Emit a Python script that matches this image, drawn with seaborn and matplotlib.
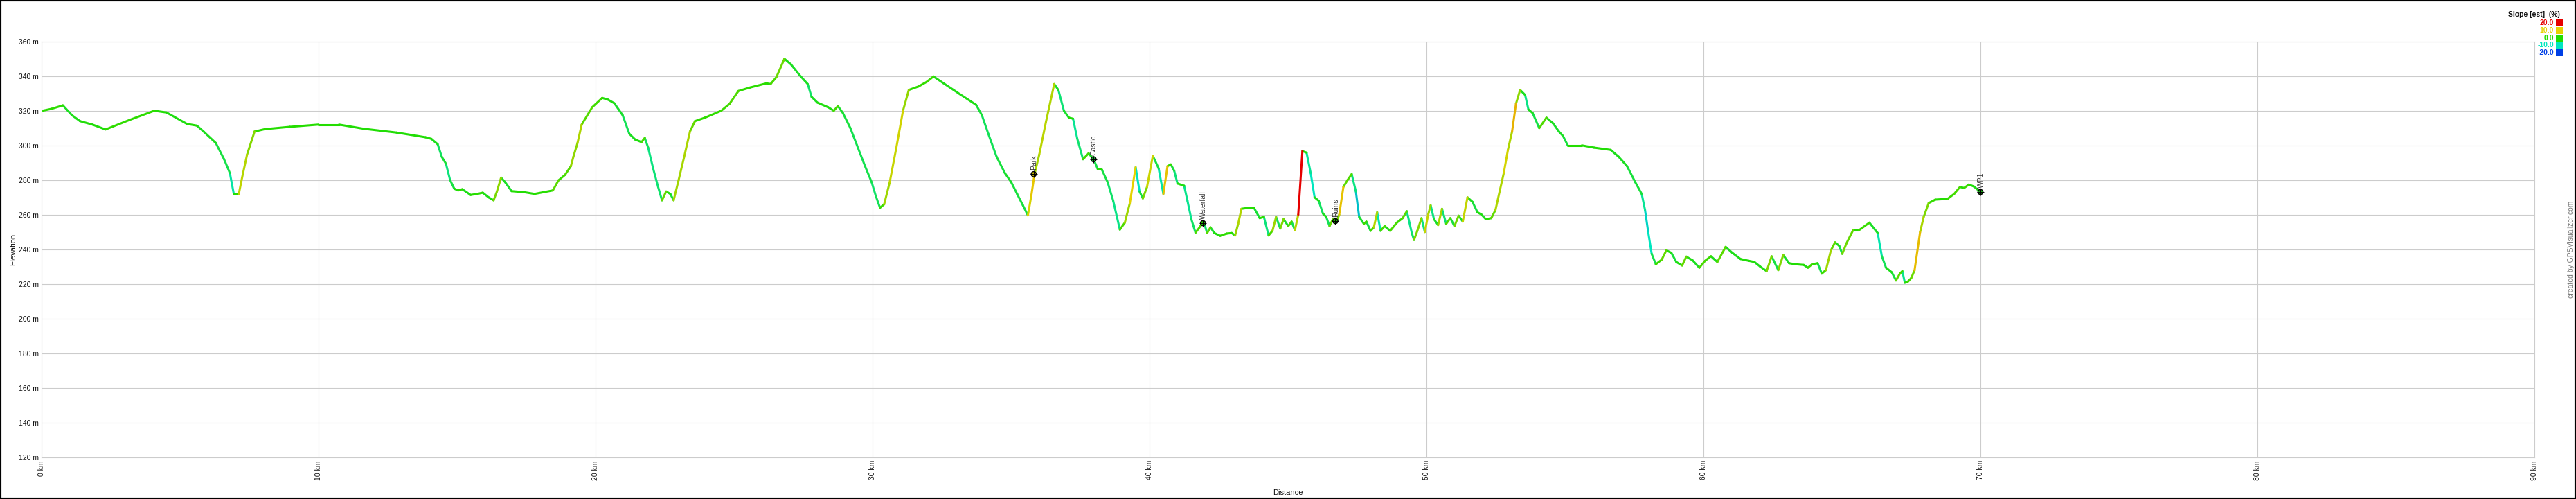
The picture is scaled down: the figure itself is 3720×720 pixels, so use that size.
import numpy as np
import pandas as pd
import matplotlib
matplotlib.use("Agg")
import matplotlib.pyplot as plt
import seaborn as sns
from matplotlib.colors import LinearSegmentedColormap
from matplotlib.patches import Rectangle

# ---------------- data ----------------
DIST_KM = [0.0, 0.36, 0.77, 1.1, 1.39, 1.84, 2.31, 3.18, 4.07, 4.51, 5.25, 5.61, 5.85, 6.29, 6.59, 6.8, 6.94, 7.12,
           7.24, 7.42, 7.69, 8.07, 8.96, 10.0, 10.74, 11.63, 12.82, 13.86, 14.07, 14.3, 14.45, 14.6, 14.75, 14.9,
           15.04, 15.19, 15.49, 15.73, 15.93, 16.14, 16.32, 16.44, 16.59, 16.74, 16.97, 17.42, 17.8, 18.16, 18.46,
           18.66, 18.9, 19.11, 19.2, 19.35, 19.5, 19.88, 20.24, 20.45, 20.68, 20.98, 21.22, 21.43, 21.66, 21.78,
           21.9, 22.08, 22.26, 22.4, 22.55, 22.7, 22.82, 23.0, 23.2, 23.41, 23.59, 23.95, 24.54, 24.84, 25.16,
           25.58, 26.17, 26.32, 26.53, 26.82, 27.06, 27.36, 27.66, 27.8, 28.01, 28.4, 28.6, 28.75, 28.93, 29.2,
           29.44, 29.73, 29.97, 30.12, 30.27, 30.42, 30.62, 30.86, 31.1, 31.31, 31.66, 31.96, 32.2, 32.55, 33.15,
           33.74, 33.95, 34.18, 34.48, 34.78, 35.01, 35.22, 35.43, 35.61, 35.73, 35.85, 36.02, 36.26, 36.56,
           36.71, 36.91, 37.09, 37.24, 37.39, 37.6, 37.8, 37.98, 38.13, 38.28, 38.49, 38.69, 38.93, 39.11, 39.29,
           39.5, 39.64, 39.76, 39.91, 40.12, 40.33, 40.5, 40.65, 40.77, 40.89, 41.01, 41.25, 41.37, 41.51, 41.66,
           41.84, 41.96, 42.08, 42.2, 42.34, 42.55, 42.79, 42.97, 43.09, 43.2, 43.32, 43.5, 43.77, 43.98, 44.13,
           44.3, 44.44, 44.57, 44.72, 44.84, 45.01, 45.13, 45.25, 45.37, 45.52, 45.67, 45.82, 45.96, 46.11, 46.26,
           46.38, 46.5, 46.62, 46.74, 46.85, 47.0, 47.15, 47.3, 47.45, 47.57, 47.74, 47.83, 47.98, 48.1, 48.22,
           48.34, 48.49, 48.69, 48.93, 49.14, 49.29, 49.47, 49.55, 49.67, 49.82, 49.94, 50.06, 50.15, 50.27,
           50.42, 50.56, 50.71, 50.86, 51.01, 51.16, 51.31, 51.48, 51.66, 51.84, 51.99, 52.14, 52.34, 52.49,
           52.64, 52.79, 52.94, 53.09, 53.23, 53.38, 53.56, 53.68, 53.83, 54.07, 54.33, 54.57, 54.78, 54.93, 55.1,
           55.61, 56.05, 56.65, 56.94, 57.24, 57.54, 57.77, 57.89, 58.01, 58.13, 58.28, 58.49, 58.66, 58.84,
           59.02, 59.23, 59.38, 59.61, 59.85, 60.06, 60.27, 60.5, 60.8, 61.04, 61.34, 61.63, 61.84, 62.05, 62.28,
           62.46, 62.7, 62.88, 63.09, 63.32, 63.62, 63.77, 63.92, 64.12, 64.27, 64.42, 64.6, 64.75, 64.9, 65.01,
           65.16, 65.4, 65.61, 65.99, 66.29, 66.44, 66.59, 66.8, 66.95, 67.09, 67.18, 67.27, 67.39, 67.5, 67.62,
           67.82, 67.95, 68.13, 68.37, 68.81, 69.05, 69.26, 69.41, 69.58, 69.76, 70.0]

ELEV_M = [320.0, 321.2, 323.2, 317.5, 314.1, 312.1, 309.3, 314.8, 320.1, 319.1, 312.5, 311.5, 308.1, 301.5, 292.1,
          284.1, 272.1, 271.9, 281.5, 294.8, 308.1, 309.5, 310.8, 312.1, 312.1, 309.7, 307.5, 304.8, 303.9, 300.8,
          293.5, 289.5, 280.1, 275.1, 274.1, 274.8, 271.5, 272.1, 272.8, 270.1, 268.4, 273.5, 281.5, 278.8, 273.7,
          273.1, 272.1, 273.2, 274.1, 279.9, 283.1, 288.1, 293.5, 301.5, 312.1, 322.1, 327.5, 326.5, 324.4, 317.5,
          306.8, 303.5, 302.0, 304.4, 298.8, 286.8, 276.1, 268.4, 273.5, 272.1, 268.4, 280.1, 293.5, 308.1, 314.1,
          316.1, 320.1, 324.1, 331.5, 333.5, 335.9, 335.5, 339.5, 350.1, 346.8, 340.8, 335.5, 328.1, 324.8, 322.1,
          320.1, 322.8, 318.8, 310.1, 300.1, 288.1, 278.8, 270.8, 264.1, 266.1, 278.8, 298.8, 320.1, 332.1, 334.1,
          336.8, 339.9, 336.1, 329.7, 323.5, 317.5, 306.8, 293.5, 284.1, 278.8, 272.1, 265.5, 259.7, 270.8, 283.5,
          294.8, 313.5, 335.5, 332.1, 320.1, 316.1, 315.5, 304.1, 292.1, 295.5, 292.1, 286.5, 286.1, 278.8, 268.1,
          251.5, 255.5, 266.8, 287.5, 273.5, 269.5, 276.1, 294.1, 286.8, 272.1, 288.1, 289.1, 285.5, 278.1, 276.8,
          268.1, 257.5, 249.7, 253.5, 255.9, 249.5, 252.8, 249.5, 247.9, 249.2, 249.5, 248.1, 254.8, 263.5, 263.9,
          264.1, 258.1, 258.8, 248.1, 250.8, 258.8, 252.1, 257.5, 253.5, 256.1, 251.1, 260.1, 296.8, 295.9, 284.1,
          270.1, 268.1, 260.8, 258.8, 253.5, 257.5, 255.5, 260.1, 276.1, 280.1, 283.5, 273.5, 258.8, 254.8, 256.1,
          250.8, 252.8, 261.5, 250.8, 253.5, 250.8, 255.5, 258.1, 262.1, 249.5, 245.5, 250.8, 258.1, 250.1, 260.1,
          265.5, 257.5, 254.1, 263.5, 254.8, 258.1, 253.5, 259.5, 256.1, 270.1, 267.5, 261.5, 260.1, 257.5, 258.1,
          262.8, 273.5, 284.1, 297.5, 308.1, 324.1, 332.1, 329.2, 320.8, 318.8, 310.1, 316.1, 312.8, 308.1, 305.5,
          300.1, 300.1, 298.8, 297.5, 293.5, 288.1, 278.8, 272.1, 262.8, 249.5, 237.5, 231.5, 234.1, 239.5, 238.1,
          232.8, 230.8, 235.9, 233.7, 229.5, 233.5, 236.1, 232.8, 241.5, 238.1, 234.5, 233.5, 232.8, 230.1, 227.5,
          236.1, 228.1, 236.8, 232.1, 231.5, 231.1, 229.5, 231.5, 232.1, 226.1, 228.1, 239.5, 244.1, 242.1, 237.5,
          243.5, 251.1, 251.1, 255.5, 249.5, 236.1, 229.5, 226.8, 222.1, 226.1, 227.5, 220.8, 221.6, 223.5, 228.0,
          250.0, 258.8, 266.8, 268.8, 269.2, 272.1, 276.1, 275.5, 277.5, 276.4, 273.2]

WAYPOINT_NAMES = ["Park", "Castle", "Waterfall", "Ruins", "WP1"]
WAYPOINT_KM = [35.82, 37.98, 41.93, 46.71, 70.0]
WAYPOINT_ELEV = [283.5, 292.1, 255.2, 256.4, 273.2]

LEGEND_SLOPES = [20.0, 10.0, 0.0, -10.0, -20.0]
LEGEND_COLORS = ["#e60000", "#e6d200", "#22dd00", "#00e6c0", "#0040e6"]

X_TICKS = list(range(0, 91, 10))
Y_TICKS = list(range(120, 361, 20))

# ---------------- style ----------------
sns.set_theme(style="white")
plt.rcParams["font.family"] = ["Liberation Sans", "DejaVu Sans"]

W, H = 3720, 720
fig = plt.figure(figsize=(W / 100, H / 100), dpi=100)
fig.patch.set_facecolor("white")
ax = fig.add_axes([60 / W, 60 / H, 3600 / W, 600 / H])

# slope colormap
cmap = LinearSegmentedColormap.from_list(
    "slope", list(zip([0.0, 0.25, 0.5, 0.75, 1.0], LEGEND_COLORS[::-1])))

dist = np.array(DIST_KM)
elev = np.array(ELEV_M)
slope = np.diff(elev) / (np.diff(dist) * 1000.0) * 100.0

rows = []
for i, s in enumerate(slope):
    rows.append((i, dist[i], elev[i], s))
    rows.append((i, dist[i + 1], elev[i + 1], s))
seg_df = pd.DataFrame(rows, columns=["seg", "km", "elev", "slope"])

sns.lineplot(data=seg_df, x="km", y="elev", units="seg", estimator=None,
             hue="slope", palette=cmap, hue_norm=(-20, 20), legend=False,
             linewidth=2.2, solid_capstyle="round", ax=ax, sort=False)

# waypoints
wp_slope = np.interp(WAYPOINT_KM, dist[:-1] + np.diff(dist) / 2, slope)
wp_df = pd.DataFrame({"km": WAYPOINT_KM, "elev": WAYPOINT_ELEV, "name": WAYPOINT_NAMES,
                      "slope": wp_slope})
fill = [tuple(np.array(cmap((min(max(s, -20), 20) + 20) / 40)[:3]) * 0.8) for s in wp_slope]
sns.scatterplot(data=wp_df, x="km", y="elev", marker="o", s=28, color=fill,
                edgecolor="black", linewidth=1.0, ax=ax, zorder=5, legend=False)
sns.scatterplot(data=wp_df, x="km", y="elev", marker="+", s=60, color="black",
                linewidth=0.7, ax=ax, zorder=6, legend=False)
for _, r in wp_df.iterrows():
    ax.annotate(r["name"], (r["km"], r["elev"]), xytext=(0.5, 4.5), textcoords="offset points",
                rotation=90, ha="center", va="bottom", fontsize=7.5, color="#333333", zorder=7)

# axes
ax.set_xlim(0, 90)
ax.set_ylim(120, 360)
ax.set_xticks(X_TICKS)
ax.set_xticklabels([f"{v} km" for v in X_TICKS], rotation=90, va="top", ha="center")
ax.set_yticks(Y_TICKS)
ax.set_yticklabels([f"{v} m" for v in Y_TICKS])
ax.tick_params(length=0, pad=3, labelsize=7.5, colors="#111111")
ax.grid(True, color="#cccccc", linewidth=0.8)
for sp in ax.spines.values():
    sp.set_color("#cccccc")
    sp.set_linewidth(0.8)
ax.set_xlabel("")
ax.set_ylabel("")
ax.set_facecolor("white")

fig.text(19 / W, 0.5, "Elevation", rotation=90, ha="center", va="center", fontsize=8, color="#111111")
fig.text(1860 / W, 9 / H, "Distance", ha="center", va="center", fontsize=8, color="#111111")

# slope legend
fig.text(3697 / W, 1 - 21 / H, "Slope [est]  (%)", ha="right", va="center", fontsize=7.5,
         fontweight="bold", color="#111111")
for i, (v, c) in enumerate(zip(LEGEND_SLOPES, LEGEND_COLORS)):
    yc = 33 + i * 10.8
    fig.text(3688 / W, 1 - yc / H, f"{v:.1f}", ha="right", va="center", fontsize=7.5,
             fontweight="bold", color=c)
    fig.patches.append(Rectangle((3691 / W, 1 - (yc + 5) / H), 10 / W, 10 / H,
                                 transform=fig.transFigure, facecolor=c, edgecolor="none"))

fig.text(3713 / W, 0.5, "created by GPSVisualizer.com", rotation=90, ha="center", va="center",
         fontsize=7.5, color="#777777")

fig.patches.append(Rectangle((0, 0), 1, 1, transform=fig.transFigure, fill=False,
                             edgecolor="black", linewidth=3))

fig.savefig("out.png", dpi=100, facecolor="white")
